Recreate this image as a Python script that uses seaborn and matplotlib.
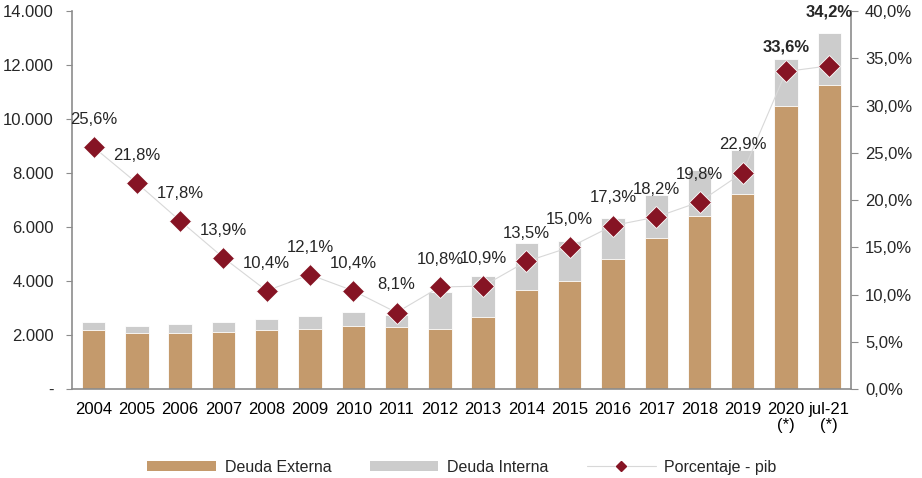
import matplotlib
matplotlib.use("Agg")
import matplotlib.pyplot as plt
from matplotlib.patches import Patch
from matplotlib.lines import Line2D
from matplotlib.ticker import FuncFormatter, MultipleLocator
import numpy as np
import pandas as pd
import seaborn as sns

# ── data ──────────────────────────────────────────────────────────────────────
years = ["2004", "2005", "2006", "2007", "2008", "2009", "2010", "2011", "2012",
         "2013", "2014", "2015", "2016", "2017", "2018", "2019",
         "2020\n(*)", "jul-21\n(*)"]
deuda_externa = [2185, 2085, 2085, 2120, 2185, 2210, 2345, 2285, 2220,
                 2680, 3665, 3990, 4825, 5605, 6420, 7235, 10480, 11260]
deuda_interna = [285, 260, 320, 360, 395, 505, 495, 455, 1385,
                 1505, 1755, 1490, 1495, 1580, 1680, 1615, 1755, 1925]
pct_pib = [25.6, 21.8, 17.8, 13.9, 10.4, 12.1, 10.4, 8.1, 10.8,
           10.9, 13.5, 15.0, 17.3, 18.2, 19.8, 22.9, 33.6, 34.2]
bold_labels = [False] * 16 + [True, True]
label_offsets = [14.5] * 16 + [12.5, 33]   # points above the marker

C_EXT = "#C49A6C"
C_INT = "#CCCCCC"
C_PCT = "#861424"
C_AX = "#8C8C8C"
FS = 12

df = pd.DataFrame({"year": years, "externa": deuda_externa,
                   "interna": deuda_interna, "pct": pct_pib})
df["total"] = df["externa"] + df["interna"]

sns.set_style("white")
plt.rcParams["font.family"] = ["Liberation Sans", "DejaVu Sans"]

fig, ax = plt.subplots(figsize=(9.22, 4.78), dpi=100)
fig.subplots_adjust(left=0.078, right=0.923, top=0.977, bottom=0.186)

# stacked bars: total (grey) then external on top
sns.barplot(data=df, x="year", y="total", color=C_INT, width=0.54,
            saturation=1, edgecolor="white", linewidth=0.6, ax=ax)
sns.barplot(data=df, x="year", y="externa", color=C_EXT, width=0.54,
            saturation=1, edgecolor="white", linewidth=0.6, ax=ax)

ax.set_xlim(-0.5, len(years) - 0.5)
ax.set_ylim(0, 14000)
ax.yaxis.set_major_locator(MultipleLocator(2000))
ax.yaxis.set_major_formatter(FuncFormatter(
    lambda v, _: "-" if v == 0 else f"{v:,.0f}".replace(",", ".")))
ax.set_xlabel("")
ax.set_ylabel("")
ax.set_xticks(np.arange(len(years)))
ax.set_xticklabels(years, linespacing=1.1)
ax.set_xticks(np.arange(-0.5, len(years)), minor=True)
ax.tick_params(axis="x", which="major", length=0, labelsize=FS, pad=9,
               labelcolor="black")
ax.tick_params(axis="x", which="minor", length=5, color=C_AX, direction="out")
ax.tick_params(axis="y", length=4, color=C_AX, labelsize=FS, pad=9,
               direction="out")

# percent of GDP on the secondary axis
ax2 = ax.twinx()
xs = np.arange(len(years))
ax2.plot(xs, df["pct"], color="#D8D8D8", lw=0.8, zorder=2)
ax2.plot(xs, df["pct"], ls="none", marker="D", ms=11.5, color=C_PCT,
         markeredgecolor="white", markeredgewidth=0.6, zorder=3)
ax2.set_ylim(0, 40)
ax2.yaxis.set_major_locator(MultipleLocator(5))
ax2.yaxis.set_major_formatter(FuncFormatter(
    lambda v, _: f"{v:.1f}%".replace(".", ",")))
ax2.tick_params(axis="y", length=5, color=C_AX, labelsize=FS, pad=5,
                direction="out")

for x, p, b, off in zip(xs, df["pct"], bold_labels, label_offsets):
    ax2.annotate(f"{p:.1f}%".replace(".", ","), (x, p),
                 xytext=(0, off), textcoords="offset points",
                 ha="center", va="bottom", fontsize=FS,
                 fontweight="bold" if b else "normal", clip_on=False)

for a in (ax, ax2):
    a.spines["top"].set_visible(False)
    for s in ("left", "right", "bottom"):
        a.spines[s].set_color(C_AX)
        a.spines[s].set_linewidth(1.2)
ax2.spines["left"].set_visible(False)
ax2.spines["bottom"].set_visible(False)
ax.spines["right"].set_visible(False)

handles = [
    Patch(facecolor=C_EXT, edgecolor="none"),
    Patch(facecolor=C_INT, edgecolor="none"),
    Line2D([0], [0], color="#D8D8D8", lw=0.8, marker="D", ms=5,
           markerfacecolor=C_PCT, markeredgecolor=C_PCT),
]
fig.legend(handles, ["Deuda Externa", "Deuda Interna", "Porcentaje - pib"],
           loc="center", bbox_to_anchor=(0.501, 0.023), ncol=3, frameon=False,
           fontsize=11.5, handlelength=4.3, handleheight=0.6,
           columnspacing=2.4, handletextpad=0.55)

fig.savefig("out.png", dpi=100)
